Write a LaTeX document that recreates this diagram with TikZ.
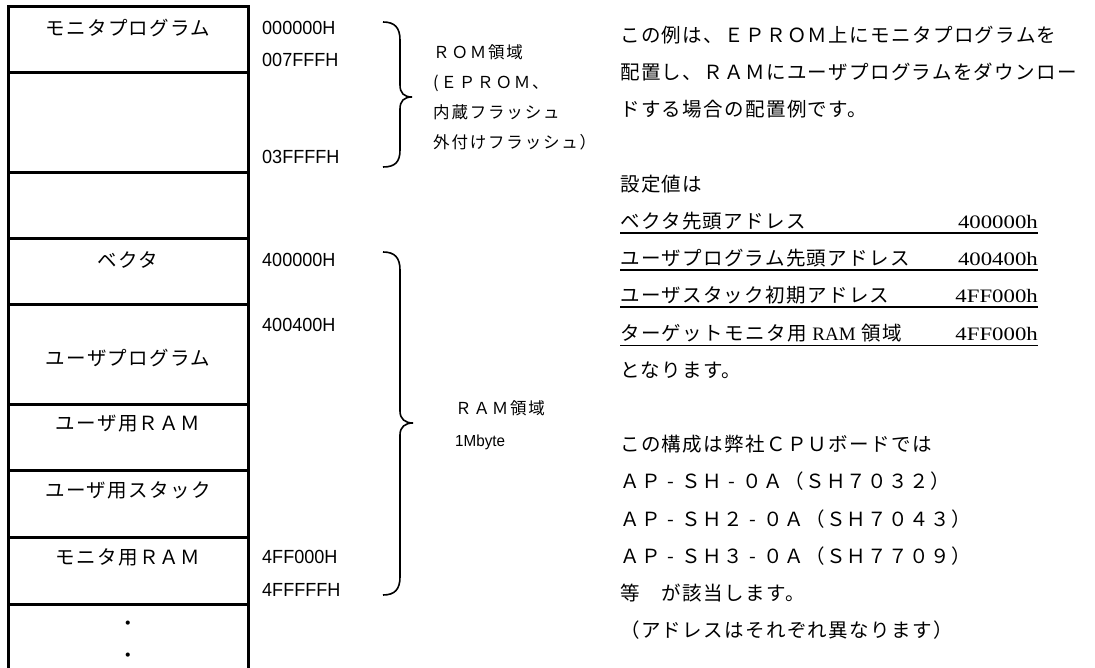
\documentclass[tikz,border=0pt]{standalone}
\usepackage{fontspec}
\usetikzlibrary{calc}

\newfontfamily\jpfont{Noto Sans CJK JP}[LetterSpace=7]
\newfontfamily\areajp{Noto Sans CJK JP}[LetterSpace=11]
\newfontfamily\addrfont{Liberation Sans}[FakeStretch=0.95]
\newfontfamily\valfont{Liberation Serif}[FakeStretch=1.2]
\newfontfamily\ramfont{Liberation Serif}
\newcommand\cellfont{\jpfont\fontsize{19.5}{22}\selectfont}
\newcommand\notefont{\jpfont\fontsize{19.5}{22}\selectfont}
\newcommand\areafont{\areajp\fontsize{16.5}{19}\selectfont}
\newcommand\adfont{\addrfont\fontsize{19}{22}\selectfont}
\newcommand\setfont{\valfont\fontsize{19}{22}\selectfont}
\newcommand\fhy{\makebox[1.07em]{-}}

\begin{document}
\begin{tikzpicture}[x=1pt,y=-1pt,
    memline/.style={line width=3pt},
    cell/.style={font=\cellfont, inner sep=0pt, text height=17pt, text depth=2pt},
    addr/.style={font=\adfont, anchor=west, inner sep=0pt, text height=13pt, text depth=0pt},
    area/.style={font=\areafont, anchor=west, inner sep=0pt, text height=14.5pt, text depth=2pt},
    note/.style={font=\notefont, anchor=west, inner sep=0pt, text height=17pt, text depth=2pt},
    setval/.style={font=\setfont, anchor=east, inner sep=0pt, text height=17pt, text depth=2pt},
    curly/.style={line width=1.6pt},
    uline/.style={line width=1.4pt}]
  \useasboundingbox (0,0) rectangle (1095,668);

  % memory map
  \draw[memline] (8,668) -- (8,7) -- (248,7) -- (248,668);
  \foreach \y in {73,173,239,305,404,470,537,604}
    \draw[memline] (8,\y) -- (248,\y);

  \node (monprog) [cell] at (128,28) {モニタプログラム};
  \node (vect) [cell] at (128,260) {ベクタ};
  \node (userprog) [cell] at (128,358) {ユーザプログラム};
  \node (userram) [cell] at (128,423) {ユーザ用ＲＡＭ};
  \node (userstack) [cell] at (128,490) {ユーザ用スタック};
  \node (monram) [cell] at (128,557) {モニタ用ＲＡＭ};
  \node (dota) [cell] at (128,623) {・};
  \node (dotb) [cell] at (128,655) {・};

  % addresses
  \node (adra) [addr] at (262,28) {000000H};
  \node (adrb) [addr] at (262,60) {007FFFH};
  \node (adrc) [addr] at (262,157) {03FFFFH};
  \node (adrd) [addr] at (262,260) {400000H};
  \node (adre) [addr] at (262,325) {400400H};
  \node (adrf) [addr] at (262,557) {4FF000H};
  \node (adrg) [addr] at (262,590) {4FFFFFH};

  % ROM / RAM areas
  \draw[curly] (383,22) .. controls (395,22) and (400,28) .. (400,40) -- (400,85)
    .. controls (400,93) and (404,97) .. (412,97) .. controls (404,97) and (400,101) .. (400,109)
    -- (400,150) .. controls (400,162) and (395,167) .. (383,167);
  \draw[curly] (383,252) .. controls (395,252) and (400,258) .. (400,270) -- (400,411)
    .. controls (400,419) and (405,423) .. (413,423) .. controls (405,423) and (400,427) .. (400,435)
    -- (400,577) .. controls (400,589) and (395,595) .. (383,595);

  \node (rom) [area] at (433,52) {ＲＯＭ領域};
  \node (roma) [area] at (433,82) {(ＥＰＲＯＭ、};
  \node (romb) [area] at (433,112) {内蔵フラッシュ};
  \node (romc) [area] at (433,142) {外付けフラッシュ）};
  \node (ram) [area] at (455,408) {ＲＡＭ領域};
  \node (ramsize) [addr, font=\addrfont\fontsize{16}{18}\selectfont] at (455,440) {1Mbyte};

  % notes
  \node (exa) [note] at (620,35) {この例は、ＥＰＲＯＭ上にモニタプログラムを};
  \node (exb) [note] at (620,72) {配置し、ＲＡＭにユーザプログラムをダウンロー};
  \node (exc) [note] at (620,109) {ドする場合の配置例です。};
  \node (setting) [note] at (620,184) {設定値は};
  \foreach \nm/\txt/\val/\y in {vec/ベクタ先頭アドレス/400000h/221,
      prog/ユーザプログラム先頭アドレス/400400h/258,
      stack/ユーザスタック初期アドレス/4FF000h/295,
      mon/{ターゲットモニタ用 {\ramfont\fontsize{19}{22}\selectfont RAM} 領域}/4FF000h/333} {
    \node (\nm) [note] at (620,\y) {\txt};
    \node (\nm v) [setval] at (1038,\y) {\val};
    \draw[uline] ([yshift=-2.5pt]\nm.south west) -- ([yshift=-2.5pt]\nm.south west -| \nm v.east);
  }
  \node (result) [note] at (620,370) {となります。};
  \node (board) [note] at (620,444) {この構成は弊社ＣＰＵボードでは};
  \node (boarda) [note] at (620,481) {ＡＰ\fhy ＳＨ\fhy ０Ａ（ＳＨ７０３２）};
  \node (boardb) [note] at (620,519) {ＡＰ\fhy ＳＨ２\fhy ０Ａ（ＳＨ７０４３）};
  \node (boardc) [note] at (620,556) {ＡＰ\fhy ＳＨ３\fhy ０Ａ（ＳＨ７７０９）};
  \node (apply) [note] at (620,593) {等　が該当します。};
  \node (differ) [note] at (620,630) {（アドレスはそれぞれ異なります）};
\end{tikzpicture}
\end{document}
